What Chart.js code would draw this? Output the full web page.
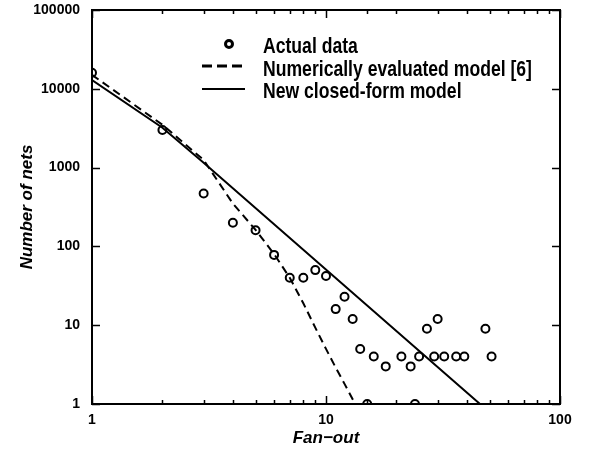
<!DOCTYPE html>
<html>
<head>
<meta charset="utf-8">
<script src="https://cdn.jsdelivr.net/npm/chart.js@4"></script>
<style>
  html, body { margin: 0; padding: 0; background: #fff; }
  #wrap { width: 591px; height: 453px; }
</style>
</head>
<body>
<div id="wrap"><canvas id="grafico" width="591" height="453"></canvas></div>
<script>
/* data */
var fanOut     = [1, 2, 3, 4, 5, 6, 7, 8, 9, 10, 11, 12, 13, 14, 15, 16, 18, 21, 23, 24, 25, 27, 29, 30, 32, 36, 39, 48, 51];
var numNets    = [16000, 3000, 470, 200, 160, 78, 40, 40, 50, 42, 16, 23, 12, 5, 1, 4, 3, 4, 3, 1, 4, 9, 4, 12, 4, 4, 4, 9, 4];

var modelX     = [1, 2, 3, 4, 5, 6, 7, 8, 9, 10, 11, 12, 13, 13.3];
var modelY     = [15000, 3500, 1250, 350, 162, 80, 40, 19, 9.3, 5, 2.9, 1.8, 1.15, 1];

var closedX    = [1, 2, 3, 45.5];
var closedY    = [12900, 3200, 1150, 1];

var xTicks     = [1, 10, 100];
var yTicks     = [1, 10, 100, 1000, 10000, 100000];

var legendTxt  = ["Actual data", "Numerically evaluated model [6]", "New closed-form model"];

function pares(xs, ys) {
  return xs.map(function (x, i) { return { x: x, y: ys[i] }; });
}
function ehDecada(v) {
  var l = Math.log10(v);
  return Math.abs(l - Math.round(l)) < 1e-9;
}

/* frame, inward ticks (mirrored) and the inside legend */
var molduraPlugin = {
  id: "moldura",
  afterDatasetsDraw: function (chart) {
    var ctx = chart.ctx, a = chart.chartArea;
    var sx = chart.scales.x, sy = chart.scales.y;
    ctx.save();
    ctx.strokeStyle = "#000";
    ctx.lineWidth = 2;
    ctx.strokeRect(a.left, a.top, a.right - a.left, a.bottom - a.top);

    ctx.lineWidth = 1.5;
    ctx.beginPath();
    sx.ticks.forEach(function (t) {
      var px = Math.round(sx.getPixelForValue(t.value)) + 0.5;
      var len = ehDecada(t.value) ? 8 : 4;
      ctx.moveTo(px, a.bottom); ctx.lineTo(px, a.bottom - len);
      ctx.moveTo(px, a.top);    ctx.lineTo(px, a.top + len);
    });
    yTicks.forEach(function (v) {
      var py = Math.round(sy.getPixelForValue(v)) + 0.5;
      ctx.moveTo(a.left, py);  ctx.lineTo(a.left + 8, py);
      ctx.moveTo(a.right, py); ctx.lineTo(a.right - 8, py);
    });
    ctx.stroke();
    ctx.restore();
  },
  afterDraw: function (chart) {
    var ctx = chart.ctx, a = chart.chartArea;
    var x0 = a.left + 110, x1 = a.left + 153, tx = a.left + 171;
    var marcas = [a.top + 34, a.top + 56, a.top + 79];
    var bases  = [a.top + 43, a.top + 65.5, a.top + 88];
    ctx.save();
    ctx.strokeStyle = "#000";
    ctx.fillStyle = "#000";

    /* marker */
    ctx.lineWidth = 3;
    ctx.beginPath();
    ctx.arc(a.left + 137, marcas[0], 3.5, 0, Math.PI * 2);
    ctx.stroke();

    /* dashed */
    ctx.setLineDash([10, 5]);
    ctx.beginPath();
    ctx.moveTo(x0, marcas[1]); ctx.lineTo(x1, marcas[1]);
    ctx.stroke();

    /* solid */
    ctx.setLineDash([]);
    ctx.lineWidth = 2;
    ctx.beginPath();
    ctx.moveTo(x0, marcas[2]); ctx.lineTo(x1, marcas[2]);
    ctx.stroke();

    /* narrow bold text (Helvetica-Narrow look) */
    ctx.font = "bold 22px 'Liberation Sans', Arial, sans-serif";
    ctx.textBaseline = "alphabetic";
    ctx.textAlign = "left";
    legendTxt.forEach(function (s, i) {
      ctx.save();
      ctx.translate(tx, bases[i]);
      ctx.scale(0.8, 1);
      ctx.fillText(s, 0, 0);
      ctx.restore();
    });
    ctx.restore();
  }
};

var fonteTicks = { family: "'Liberation Sans', Arial, sans-serif", size: 14, weight: "bold" };
var fonteTitulo = { family: "'Liberation Sans', Arial, sans-serif", size: 17, weight: "bold", style: "italic" };

new Chart(document.getElementById("grafico"), {
  type: "scatter",
  data: {
    datasets: [
      {
        label: legendTxt[0],
        data: pares(fanOut, numNets),
        showLine: false,
        pointStyle: "circle",
        pointRadius: 4,
        pointBorderWidth: 2,
        pointBorderColor: "#000",
        pointBackgroundColor: "rgba(0,0,0,0)"
      },
      {
        label: legendTxt[1],
        data: pares(modelX, modelY),
        showLine: true,
        borderColor: "#000",
        borderWidth: 2,
        borderDash: [8, 5],
        pointRadius: 0,
        fill: false
      },
      {
        label: legendTxt[2],
        data: pares(closedX, closedY),
        showLine: true,
        borderColor: "#000",
        borderWidth: 2,
        pointRadius: 0,
        fill: false
      }
    ]
  },
  options: {
    responsive: false,
    animation: false,
    events: [],
    layout: { padding: { left: 0, right: 31, top: 0, bottom: 0 } },
    plugins: { legend: { display: false }, tooltip: { enabled: false } },
    scales: {
      x: {
        type: "logarithmic",
        min: 1, max: 100,
        grid: { display: false, drawTicks: false },
        border: { display: false },
        ticks: {
          autoSkip: false, maxRotation: 0, padding: 8,
          color: "#000", font: fonteTicks,
          callback: function (v) { return xTicks.indexOf(v) >= 0 ? String(v) : ""; }
        },
        title: { display: true, text: "Fan\u2212out", color: "#000", font: fonteTitulo, padding: { top: 0, bottom: 4 } },
        afterFit: function (s) { s.height = 49; s.paddingLeft = 0; s.paddingRight = 0; }
      },
      y: {
        type: "logarithmic",
        min: 1, max: 100000,
        grid: { display: false, drawTicks: false },
        border: { display: false },
        ticks: {
          autoSkip: false, padding: 12,
          color: "#000", font: fonteTicks,
          callback: function (v) { return yTicks.indexOf(v) >= 0 ? String(v) : ""; }
        },
        title: { display: true, text: "Number of nets", color: "#000", font: fonteTitulo, padding: { top: 17, bottom: 0 } },
        afterFit: function (s) { s.width = 92; s.paddingTop = 10; s.paddingBottom = 0; }
      }
    }
  },
  plugins: [molduraPlugin]
});
</script>
</body>
</html>
